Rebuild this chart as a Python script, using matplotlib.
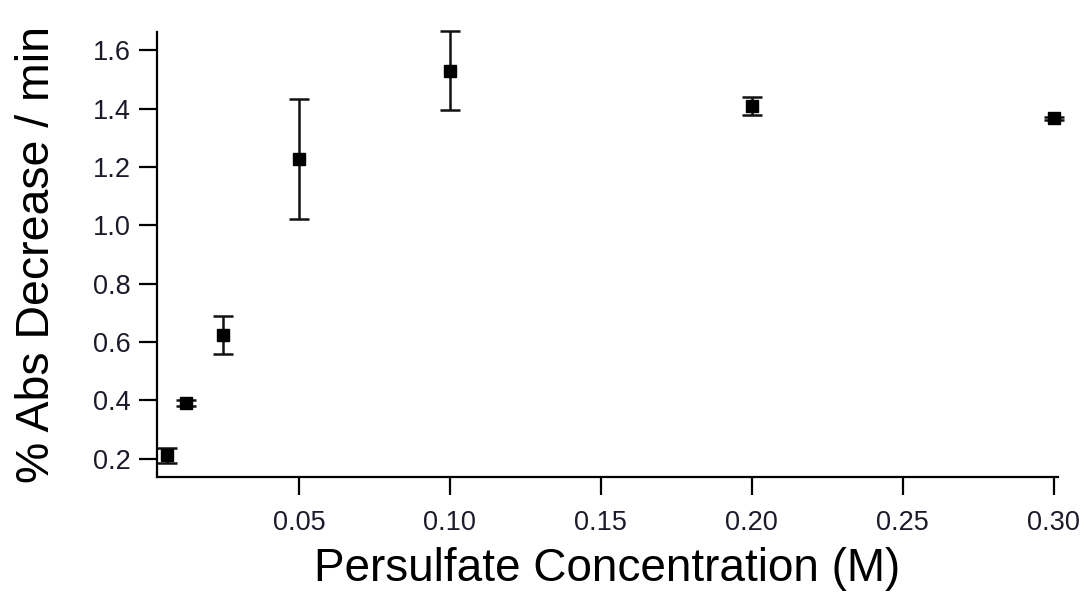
import matplotlib
matplotlib.use("Agg")
import matplotlib.pyplot as plt
import matplotlib.ticker as ticker

# ==========================================
# DATA
# ==========================================
conc = [0.00625, 0.0125, 0.025, 0.05, 0.10, 0.20, 0.30]
rate = [0.212, 0.390, 0.625, 1.227, 1.530, 1.408, 1.366]
rate_err = [0.025, 0.010, 0.065, 0.205, 0.135, 0.030, 0.004]

x_ticks = [0.05, 0.10, 0.15, 0.20, 0.25, 0.30]
y_ticks = [0.2, 0.4, 0.6, 0.8, 1.0, 1.2, 1.4, 1.6]

plt.rcParams['font.family'] = ['Liberation Sans', 'DejaVu Sans']

fig = plt.figure(figsize=(10.83, 5.94), dpi=100)
ax = fig.add_axes([0.145, 0.197, 0.832, 0.749])

markers, caps, bars = ax.errorbar(conc, rate, yerr=rate_err, fmt='s', color='black',
                                  markersize=9, ecolor='#111111', elinewidth=1.8,
                                  capsize=7, capthick=1.8)
# the 0.10 M cap sits right on the top edge
for c in caps:
    c.set_clip_on(False)
for b in bars:
    b.set_clip_on(False)
markers.set_clip_on(False)

ax.set_xlim(0.003, 0.3015)
ax.set_ylim(0.138, 1.662)

ax.xaxis.set_major_locator(ticker.FixedLocator(x_ticks))
ax.yaxis.set_major_locator(ticker.FixedLocator(y_ticks))
ax.xaxis.set_major_formatter(ticker.FormatStrFormatter('%.2f'))
ax.yaxis.set_major_formatter(ticker.FormatStrFormatter('%.1f'))

for s in ['top', 'right']:
    ax.spines[s].set_visible(False)
for s in ['left', 'bottom']:
    ax.spines[s].set_linewidth(1.6)

ax.tick_params(direction='out', length=13, width=1.6,
               labelsize=19.5, labelcolor='#1a1a2a', pad=6)
ax.tick_params(axis='x', pad=11)

ax.set_xlabel("Persulfate Concentration (M)", fontsize=33, labelpad=8)
ax.set_ylabel("% Abs Decrease / min", fontsize=33.5, labelpad=24)

fig.savefig("out.png", dpi=100)
